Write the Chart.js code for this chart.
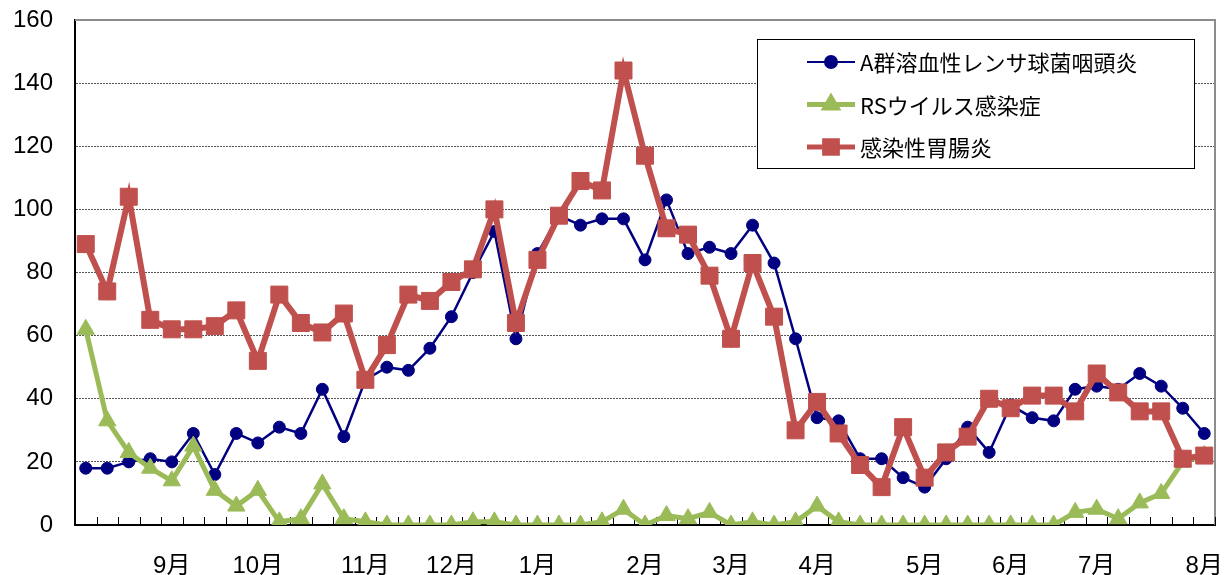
<!DOCTYPE html>
<html>
<head>
<meta charset="utf-8">
<script src="https://cdn.jsdelivr.net/npm/chart.js@4.4.0/dist/chart.umd.min.js"></script>
<style>
  body { margin: 0; background: #fff; }
  canvas { display: block; }
</style>
</head>
<body>
<canvas id="chart" width="1230" height="575"></canvas>
<script>
// Weekly categories (only month starts are labelled)
const weekLabels = [
  '', '', '', '', '9月', '', '', '', '10月', '', '', '', '', '11月', '', '', '', '12月',
  '', '', '', '1月', '', '', '', '', '2月', '', '', '', '3月', '', '', '', '4月', '',
  '', '', '', '5月', '', '', '', '6月', '', '', '', '7月', '', '', '', '', '8月'
];

const seriesNames = ['A群溶血性レンサ球菌咽頭炎', 'RSウイルス感染症', '感染性胃腸炎'];

const strepValues = [
  18, 18, 20, 21, 20, 29, 16, 29, 26, 31, 29, 43, 28, 46, 50, 49, 56, 66,
  80, 93, 59, 86, 98, 95, 97, 97, 84, 103, 86, 88, 86, 95, 83, 59, 34, 33,
  21, 21, 15, 12, 21, 31, 23, 38, 34, 33, 43, 44, 43, 48, 44, 37, 29
];

const rsvValues = [
  62, 33, 23, 18, 14, 25, 11, 6, 11, 1, 2, 13, 2, 1, 0, 0, 0, 0,
  1, 1, 0, 0, 0, 0, 1, 5, 0, 3, 2, 4, 0, 1, 0, 1, 6, 1,
  0, 0, 0, 0, 0, 0, 0, 0, 0, 0, 4, 5, 2, 7, 10, 20, 22
];

const gastroValues = [
  89, 74, 104, 65, 62, 62, 63, 68, 52, 73, 64, 61, 67, 46, 57, 73, 71, 77,
  81, 100, 64, 84, 98, 109, 106, 144, 117, 94, 92, 79, 59, 83, 66, 30, 39, 29,
  19, 12, 31, 15, 23, 28, 40, 37, 41, 41, 36, 48, 42, 36, 36, 21, 22
];

const yTicks = [0, 20, 40, 60, 80, 100, 120, 140, 160];

const COLORS = {
  navy: '#000080',
  green: '#9BBB59',
  red: '#C0504D',
};

const FONT = "'Liberation Sans', 'Noto Sans CJK JP', sans-serif";

// Plot frame: grey top/right border + inward tick marks on the x axis
const frame = {
  id: 'frame',
  beforeDatasetsDraw(chart) {
    const { ctx, chartArea: a } = chart;
    const xs = chart.scales.x;
    ctx.save();
    ctx.strokeStyle = '#8c8c8c';
    ctx.lineWidth = 2;
    ctx.beginPath();
    ctx.moveTo(a.left, a.top);
    ctx.lineTo(a.right, a.top);
    ctx.lineTo(a.right, a.bottom);
    ctx.stroke();

    const n = weekLabels.length;
    const step = (a.right - a.left) / n;
    ctx.strokeStyle = '#000';
    ctx.lineWidth = 1;
    ctx.beginPath();
    for (let i = 1; i <= n; i++) {
      const x = Math.round(xs.getPixelForValue(i - 1) + step / 2) + 0.5;
      ctx.moveTo(x, a.bottom);
      ctx.lineTo(x, a.bottom - 8);
    }
    ctx.stroke();
    ctx.restore();
  }
};

// Boxed legend inside the plot
const boxLegend = {
  id: 'boxLegend',
  afterDatasetsDraw(chart) {
    const ctx = chart.ctx;
    const x = 757, y = 39, w = 437, h = 129;
    ctx.save();
    ctx.fillStyle = '#fff';
    ctx.fillRect(x, y, w, h);
    ctx.strokeStyle = '#000';
    ctx.lineWidth = 1;
    ctx.strokeRect(x + 0.5, y + 0.5, w, h);

    chart.data.datasets.forEach((ds, i) => {
      const cy = 62 + i * 42.5;
      ctx.strokeStyle = ds.borderColor;
      ctx.lineWidth = ds.legendLineWidth;
      ctx.beginPath();
      ctx.moveTo(807, cy);
      ctx.lineTo(855, cy);
      ctx.stroke();

      ctx.fillStyle = ds.pointBackgroundColor;
      ctx.strokeStyle = ds.pointBorderColor;
      Chart.helpers.drawPoint(ctx, {
        pointStyle: ds.pointStyle,
        radius: ds.legendRadius,
        borderWidth: 1,
        rotation: 0,
      }, 831, cy);

      ctx.fillStyle = '#000';
      ctx.font = "22px 'Noto Sans CJK JP', sans-serif";
      ctx.textBaseline = 'middle';
      ctx.textAlign = 'left';
      ctx.fillText(ds.label, 860, cy + 1);
    });
    ctx.restore();
  }
};

new Chart(document.getElementById('chart'), {
  type: 'line',
  data: {
    labels: weekLabels,
    datasets: [
      {
        label: seriesNames[0],
        data: strepValues,
        borderColor: COLORS.navy,
        borderWidth: 2.5,
        pointStyle: 'circle',
        pointRadius: 6,
        pointBackgroundColor: COLORS.navy,
        pointBorderColor: COLORS.navy,
        pointBorderWidth: 1,
        legendLineWidth: 2,
        legendRadius: 6,
        order: 3,
      },
      {
        label: seriesNames[1],
        data: rsvValues,
        borderColor: COLORS.green,
        borderWidth: 5,
        pointStyle: 'triangle',
        pointRadius: 10,
        pointBackgroundColor: COLORS.green,
        pointBorderColor: COLORS.green,
        pointBorderWidth: 1,
        legendLineWidth: 5,
        legendRadius: 7,
        order: 2,
      },
      {
        label: seriesNames[2],
        data: gastroValues,
        borderColor: COLORS.red,
        borderWidth: 6,
        pointStyle: 'rect',
        pointRadius: 12,
        pointBackgroundColor: COLORS.red,
        pointBorderColor: COLORS.red,
        pointBorderWidth: 1,
        legendLineWidth: 5,
        legendRadius: 9,
        order: 1,
      },
    ],
  },
  options: {
    responsive: false,
    animation: false,
    layout: { padding: { top: 20, right: 15, left: 0, bottom: 0 } },
    plugins: {
      legend: { display: false },
      tooltip: { enabled: false },
    },
    scales: {
      x: {
        type: 'category',
        offset: true,
        afterFit: (scale) => {
          scale.height = 50;
          scale.paddingLeft = 0;
          scale.paddingRight = 0;
        },
        border: { display: true, color: '#000', width: 2 },
        grid: {
          display: false,
        },
        ticks: {
          autoSkip: false,
          maxRotation: 0,
          minRotation: 0,
          padding: 19,
          color: '#000',
          font: { family: FONT, size: 24 },
        },
      },
      y: {
        min: yTicks[0],
        max: yTicks[yTicks.length - 1],
        afterFit: (scale) => {
          scale.width = 75;
          scale.paddingTop = 0;
          scale.paddingBottom = 0;
        },
        afterBuildTicks: (scale) => { scale.ticks = yTicks.map(v => ({ value: v })); },
        border: { display: true, color: '#000', width: 2, dash: [2, 1] },
        grid: {
          drawTicks: false,
          color: (c) => (c.tick.value === 0 || c.tick.value === 160) ? 'rgba(0,0,0,0)' : '#555',
          lineWidth: 1,
        },
        ticks: {
          padding: 22,
          color: '#000',
          font: { family: FONT, size: 24 },
        },
      },
    },
  },
  plugins: [frame, boxLegend],
});
</script>
</body>
</html>
